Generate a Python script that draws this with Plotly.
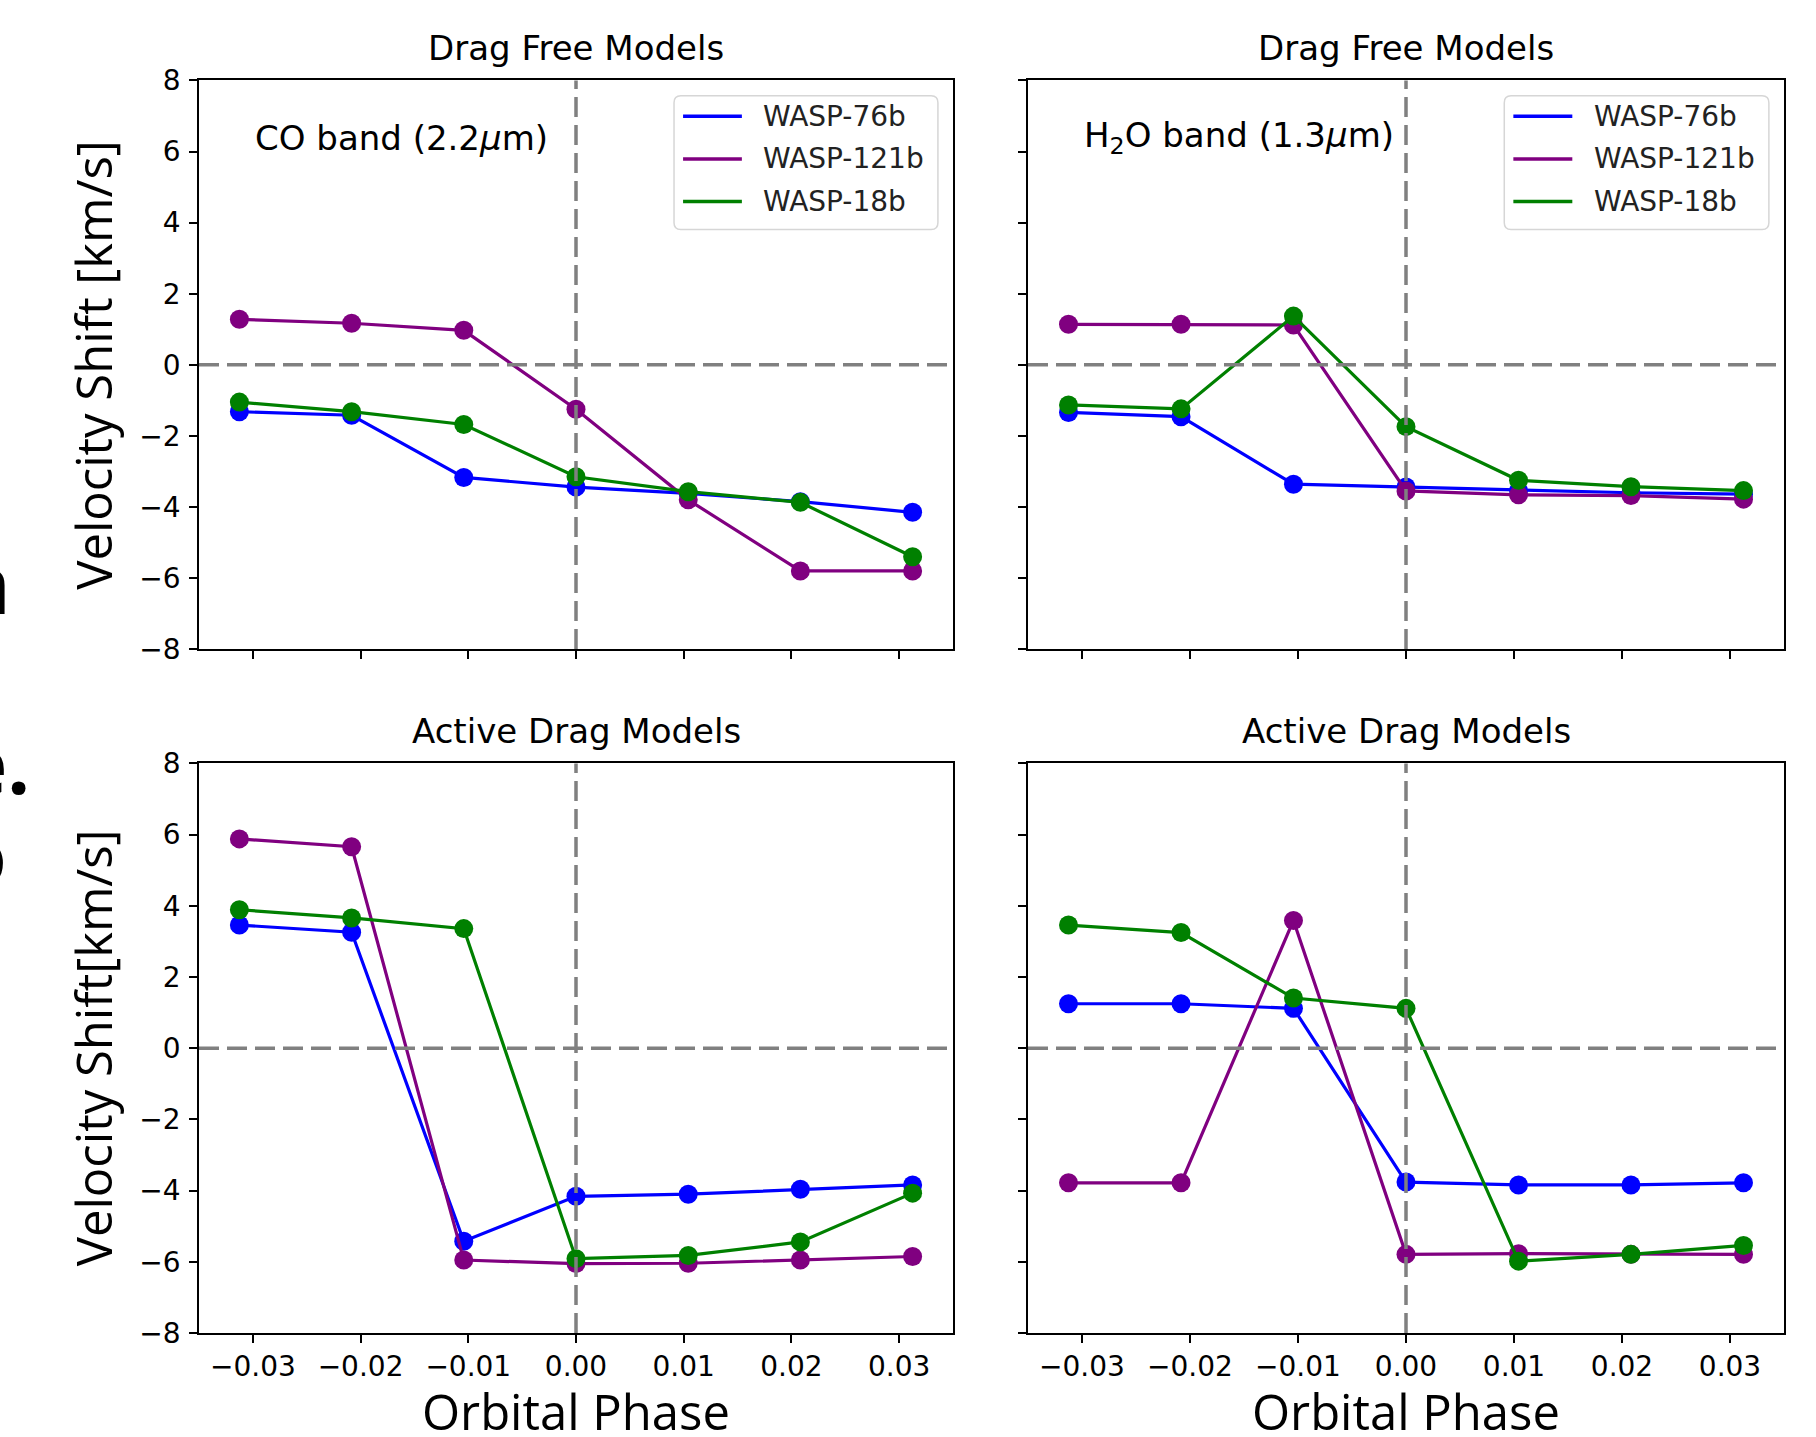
import plotly.graph_objects as go

# ---------------- data ----------------
phase = [-0.03125, -0.02083, -0.01042, 0.0, 0.01042, 0.02083, 0.03125]
planets = ["WASP-76b", "WASP-121b", "WASP-18b"]
colors = ["#0000ff", "#800080", "#008000"]

# Drag free, CO band (2.2 um)
co_free_76 = [-1.32, -1.42, -3.17, -3.44, -3.62, -3.85, -4.15]
co_free_121 = [1.28, 1.17, 0.97, -1.25, -3.80, -5.80, -5.80]
co_free_18 = [-1.05, -1.32, -1.68, -3.15, -3.57, -3.87, -5.40]

# Drag free, H2O band (1.3 um)
h2o_free_76 = [-1.34, -1.46, -3.36, -3.44, -3.54, -3.60, -3.64]
h2o_free_121 = [1.14, 1.14, 1.12, -3.55, -3.66, -3.68, -3.78]
h2o_free_18 = [-1.13, -1.24, 1.37, -1.74, -3.25, -3.43, -3.54]

# Active drag, CO band
co_drag_76 = [3.46, 3.26, -5.42, -4.16, -4.10, -3.96, -3.84]
co_drag_121 = [5.88, 5.66, -5.95, -6.05, -6.04, -5.95, -5.85]
co_drag_18 = [3.89, 3.66, 3.36, -5.91, -5.82, -5.44, -4.07]

# Active drag, H2O band
h2o_drag_76 = [1.25, 1.25, 1.12, -3.76, -3.84, -3.84, -3.78]
h2o_drag_121 = [-3.78, -3.78, 3.59, -5.79, -5.77, -5.79, -5.79]
h2o_drag_18 = [3.46, 3.25, 1.41, 1.12, -5.98, -5.79, -5.54]

panel_titles = ["Drag Free Models", "Drag Free Models", "Active Drag Models", "Active Drag Models"]
band_labels = ["CO band (2.2<i>μ</i>m)", "H<sub>2</sub>O band (1.3<i>μ</i>m)"]
y_labels = ["Velocity Shift [km/s]", "Velocity Shift[km/s]"]
x_label = "Orbital Phase"

x_tickvals = [-0.03, -0.02, -0.01, 0.0, 0.01, 0.02, 0.03]
x_ticktext = ["−0.03", "−0.02", "−0.01", "0.00", "0.01", "0.02", "0.03"]
y_tickvals = [-8, -6, -4, -2, 0, 2, 4, 6, 8]
y_ticktext = ["−8", "−6", "−4", "−2", "0", "2", "4", "6", "8"]

panels = [
    [co_free_76, co_free_121, co_free_18],
    [h2o_free_76, h2o_free_121, h2o_free_18],
    [co_drag_76, co_drag_121, co_drag_18],
    [h2o_drag_76, h2o_drag_121, h2o_drag_18],
]

# ---------------- layout geometry (pixels) ----------------
W, H = 1816, 1437
col_px = [(199, 953), (1028, 1784)]
row_px = [(66, 648), (765, 1348)]

def px(x):
    return x / W

def py(y):
    return 1 - y / H

def rounded_rect(x0, y0, x1, y1, rx, ry):
    return (f"M {x0 + rx},{y0} L {x1 - rx},{y0} Q {x1},{y0} {x1},{y0 + ry} "
            f"L {x1},{y1 - ry} Q {x1},{y1} {x1 - rx},{y1} "
            f"L {x0 + rx},{y1} Q {x0},{y1} {x0},{y1 - ry} "
            f"L {x0},{y0 + ry} Q {x0},{y0} {x0 + rx},{y0} Z")

FONT = "DejaVu Sans"
LABEL_FONT = "Open Sans"

fig = go.Figure()

axis_names = ["", "2", "3", "4"]
for i, series in enumerate(panels):
    ax = axis_names[i]
    for name, col, vals in zip(planets, colors, series):
        fig.add_trace(go.Scatter(
            x=phase, y=vals, mode="lines+markers", name=name,
            line=dict(color=col, width=3.2),
            marker=dict(color=col, size=19),
            showlegend=False,
            xaxis="x" + ax, yaxis="y" + ax,
        ))

layout = dict(
    width=W, height=H,
    margin=dict(l=0, r=0, t=0, b=0),
    paper_bgcolor="white", plot_bgcolor="white",
    showlegend=False,
    font=dict(family=FONT, color="black"),
)

shapes = []
annotations = []
for i in range(4):
    r, c = divmod(i, 2)
    ax = axis_names[i]
    x0, x1 = col_px[c]
    y0, y1 = row_px[r]
    common = dict(
        showline=True, mirror=True, linecolor="black", linewidth=1.7,
        ticks="outside", ticklen=8, tickwidth=1.7, tickcolor="black",
        showgrid=False, zeroline=False,
        tickfont=dict(family=FONT, size=28, color="black"),
    )
    layout["xaxis" + ax] = dict(
        common, domain=[px(x0), px(x1)], anchor="y" + ax,
        range=[-0.035, 0.035], tickvals=x_tickvals, ticktext=x_ticktext,
        showticklabels=(r == 1), ticklabelstandoff=0,
    )
    layout["yaxis" + ax] = dict(
        common, domain=[py(y1), py(y0)], anchor="x" + ax,
        range=[-8, 8], tickvals=y_tickvals, ticktext=y_ticktext,
        showticklabels=(c == 0), ticklabelstandoff=3,
    )
    xr = "x" + ax
    yr = "y" + ax
    dash_line = dict(color="#808080", width=3.5, dash="20px,8px")
    shapes.append(dict(type="line", xref=xr + " domain", yref=yr,
                       x0=0, x1=1, y0=0, y1=0, line=dash_line, layer="above"))
    shapes.append(dict(type="line", xref=xr, yref=yr + " domain",
                       x0=0, x1=0, y0=0, y1=1, line=dash_line, layer="above"))

    # panel title
    annotations.append(dict(
        text=panel_titles[i], x=px((x0 + x1) / 2), y=py(y0 - 11),
        xref="paper", yref="paper", xanchor="center", yanchor="bottom",
        showarrow=False, font=dict(family=FONT, size=34, color="black"),
    ))

    if r == 0:
        # band label
        annotations.append(dict(
            text=band_labels[c], x=0.072, y=0.899,
            xref=xr + " domain", yref=yr + " domain",
            xanchor="left", yanchor="middle", showarrow=False,
            font=dict(family=FONT, size=34, color="black"),
        ))
        # legend box (rounded)
        shapes.append(dict(type="path", xref=xr + " domain", yref=yr + " domain",
                           path=rounded_rect(0.630, 0.738, 0.980, 0.973, 0.009, 0.012),
                           line=dict(color="#d6d6d6", width=1.5),
                           fillcolor="rgba(255,255,255,0.8)", layer="above"))
        for k, (name, col) in enumerate(zip(planets, colors)):
            yy = 0.937 - k * 0.075
            shapes.append(dict(type="line", xref=xr + " domain", yref=yr + " domain",
                               x0=0.642, x1=0.720, y0=yy, y1=yy,
                               line=dict(color=col, width=3.5), layer="above"))
            annotations.append(dict(
                text=name, x=0.746, y=yy, xref=xr + " domain", yref=yr + " domain",
                xanchor="left", yanchor="middle", showarrow=False,
                font=dict(family=FONT, size=28, color="#222222"),
            ))
    else:
        annotations.append(dict(
            text=x_label, x=px((x0 + x1) / 2), y=py(y1 + 80),
            xref="paper", yref="paper", xanchor="center", yanchor="middle",
            showarrow=False, font=dict(family=LABEL_FONT, size=49, color="black"),
        ))
    if c == 0:
        annotations.append(dict(
            text=y_labels[r], x=px(93), y=py((y0 + y1) / 2),
            xref="paper", yref="paper", xanchor="center", yanchor="middle",
            textangle=-90, showarrow=False,
            font=dict(family=LABEL_FONT, size=49, color="black"),
        ))

# cropped text fragments at the left edge of the page
fragments = [("n", 13, 580), ("e.", 32, 764), ("o", 9, 857)]
for txt, xr_px, yc in fragments:
    annotations.append(dict(
        text="<b>" + txt + "</b>", x=px(xr_px), y=py(yc),
        xref="paper", yref="paper", xanchor="right", yanchor="middle",
        showarrow=False, font=dict(family="Open Sans", size=80, color="black"),
    ))

layout["shapes"] = shapes
layout["annotations"] = annotations
fig.update_layout(**layout)

fig.write_html("out.html")
